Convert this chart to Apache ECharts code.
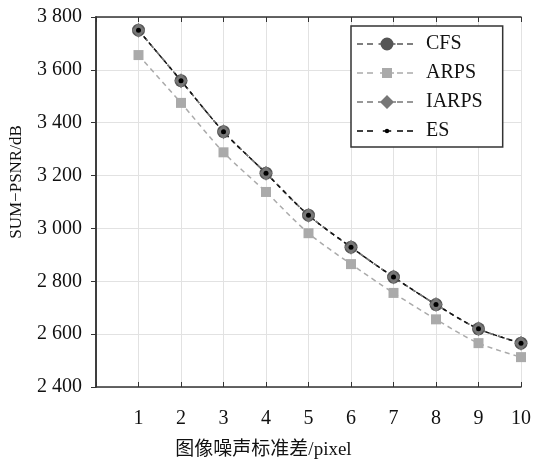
<!DOCTYPE html>
<html><head><meta charset="utf-8">
<script src="https://cdn.jsdelivr.net/npm/echarts@6/dist/echarts.min.js"></script>
<style>html,body{margin:0;padding:0;background:#fff}#c{width:534px;height:465px}</style>
</head><body><div id="c"></div>
<script>
const xValues = [1, 2, 3, 4, 5, 6, 7, 8, 9, 10];
const cfs   = [3750, 3559, 3366, 3209, 3050, 2929, 2816, 2712, 2620, 2566];
const arps  = [3656, 3475, 3288, 3138, 2982, 2865, 2756, 2656, 2566, 2513];
const iarps = [3750, 3559, 3366, 3209, 3050, 2929, 2816, 2712, 2620, 2566];
const es    = [3750, 3559, 3366, 3209, 3050, 2929, 2816, 2712, 2620, 2566];
const seriesNames = ['CFS', 'ARPS', 'IARPS', 'ES'];
const xTitle = '图像噪声标准差/pixel';
const yTitle = 'SUM−PSNR/dB';

const FONT = '"Liberation Serif", "Noto Sans CJK SC", serif';
const pairs = arr => xValues.map((x, i) => [x, arr[i]]);

// legend icon: dashed line with a centred symbol, in a 60 x 14 box
function legendIcon(kind, half) {
  let p = 'M0 0h0.01v0.01h-0.01Z M59.99 13.99h0.01v0.01h-0.01Z ';
  for (let x = 0; x < 60; x += 10) {
    const x2 = Math.min(x + 6, 60);
    if (x2 > 30 - half - 2 && x < 30 + half + 2) continue;
    p += `M${x} 6.25H${x2}V7.75H${x}Z `;
  }
  p += `M${30 - half - 2} 6.25H${30 + half + 2}V7.75H${30 - half - 2}Z `;
  if (kind === 'circle') {
    p += `M${30 + half} 7A${half} ${half} 0 1 1 ${30 - half} 7A${half} ${half} 0 1 1 ${30 + half} 7Z`;
  } else if (kind === 'rect') {
    p += `M${30 - half} ${7 - half}H${30 + half}V${7 + half}H${30 - half}Z`;
  } else if (kind === 'diamond') {
    p += `M30 ${7 - half}L${30 + half} 7L30 ${7 + half}L${30 - half} 7Z`;
  }
  return 'path://' + p;
}

const chart = echarts.init(document.getElementById('c'));
const axisLineStyle = { color: '#333', width: 1.5 };
const gridLine = { show: true, lineStyle: { color: '#e2e2e2', width: 1 } };
chart.setOption({
  animation: false,
  textStyle: { fontFamily: FONT },
  grid: { left: 96, right: 13, top: 17, bottom: 74 },
  legend: {
    data: [
      { name: seriesNames[0], icon: legendIcon('circle', 6.5) },
      { name: seriesNames[1], icon: legendIcon('rect', 5) },
      { name: seriesNames[2], icon: legendIcon('diamond', 7) },
      { name: seriesNames[3], icon: legendIcon('circle', 2.2) }
    ],
    orient: 'vertical',
    left: 351, top: 26,
    padding: [8, 20, 6, 6],
    itemWidth: 60, itemHeight: 14, itemGap: 9,
    itemStyle: { borderWidth: 0 },
    borderColor: '#333', borderWidth: 1.5,
    backgroundColor: '#fff',
    textStyle: { fontFamily: FONT, fontSize: 20, color: '#111', padding: [0, 0, 0, 4] }
  },
  xAxis: [{
    type: 'value', min: 0, max: 10, interval: 1,
    name: xTitle, nameLocation: 'middle', nameGap: 54,
    nameTextStyle: { fontFamily: FONT, fontSize: 19, color: '#111', padding: [0, 90, 0, 0] },
    axisLine: { lineStyle: axisLineStyle },
    axisTick: { inside: true, length: 5, lineStyle: { color: '#333' } },
    axisLabel: { margin: 22, fontSize: 20, color: '#111', fontFamily: FONT,
      formatter: v => (v === 0 ? '' : String(v)) },
    splitLine: gridLine
  }, {
    type: 'value', min: 0, max: 10, interval: 1, position: 'top',
    axisLine: { lineStyle: axisLineStyle },
    axisTick: { inside: true, length: 5, lineStyle: { color: '#333' } },
    axisLabel: { show: false }, splitLine: { show: false }
  }],
  yAxis: [{
    type: 'value', min: 2400, max: 3800, interval: 200,
    name: yTitle, nameLocation: 'middle', nameGap: 71, nameRotate: 90,
    nameTextStyle: { fontFamily: FONT, fontSize: 17, color: '#111', padding: [0, 0, 0, 40] },
    axisLine: { show: true, lineStyle: axisLineStyle },
    axisTick: { show: false },
    axisLabel: { margin: 14, fontSize: 20, color: '#111', fontFamily: FONT,
      formatter: v => String(v).replace(/(\d)(\d{3})$/, '$1 $2') },
    splitLine: gridLine
  }, {
    type: 'value', min: 2400, max: 3800, interval: 200, position: 'right',
    axisLine: { show: true, lineStyle: axisLineStyle },
    axisTick: { show: true, inside: true, length: 5, lineStyle: { color: '#333' } },
    axisLabel: { show: false }, splitLine: { show: false }
  }],
  series: [
    { name: 'CFS', type: 'line', data: pairs(cfs), smooth: 0.3,
      symbol: 'circle', symbolSize: 13,
      itemStyle: { color: '#555' }, lineStyle: { color: '#555', type: [5, 4], width: 1.5 } },
    { name: 'ARPS', type: 'line', data: pairs(arps), smooth: 0.3,
      symbol: 'rect', symbolSize: 10,
      itemStyle: { color: '#aaa' }, lineStyle: { color: '#aaa', type: [5, 4], width: 1.5 } },
    { name: 'IARPS', type: 'line', data: pairs(iarps), smooth: 0.3,
      symbol: 'diamond', symbolSize: [13, 15],
      itemStyle: { color: '#777' }, lineStyle: { color: '#777', type: [5, 4], width: 1.5 } },
    { name: 'ES', type: 'line', data: pairs(es), smooth: 0.3,
      symbol: 'circle', symbolSize: 5,
      itemStyle: { color: '#000' }, lineStyle: { color: '#111', type: [4, 4], width: 1.5 } }
  ]
});
</script></body></html>
